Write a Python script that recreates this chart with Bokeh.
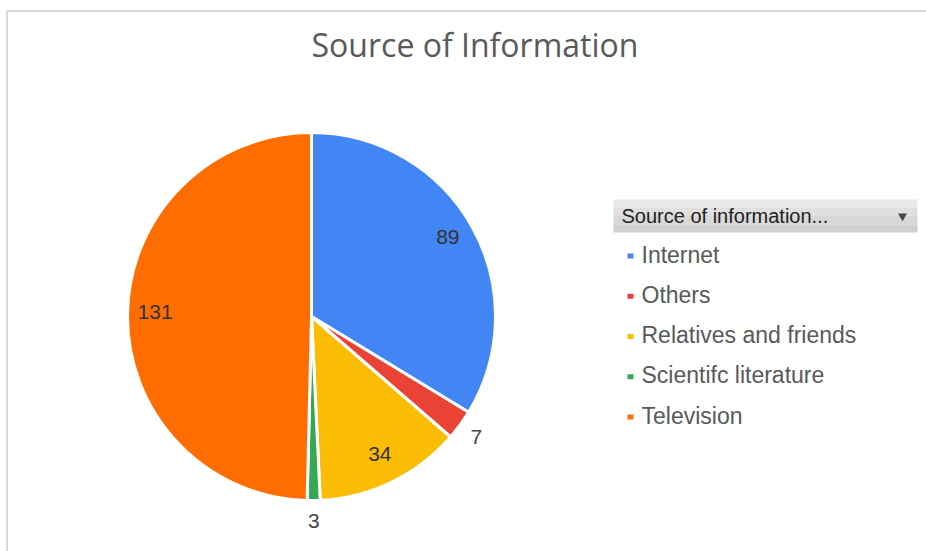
import math
from bokeh.plotting import figure
from bokeh.models import Range1d
from bokeh.core.properties import value
from bokeh.embed import file_html
from bokeh.resources import INLINE

# ---- data ----
title_text = "Source of Information"
legend_header = "Source of information..."
categories = ["Internet", "Others", "Relatives and friends", "Scientifc literature", "Television"]
counts = [89, 7, 34, 3, 131]
colors = ["#4285F4", "#EA4335", "#FBBC04", "#34A853", "#FF6D01"]

W, H = 926, 551
p = figure(width=W, height=H, output_backend="svg", toolbar_location=None,
           x_range=Range1d(0, W), y_range=Range1d(0, H), min_border=0)
p.axis.visible = False
p.grid.visible = False
p.outline_line_color = None
p.background_fill_color = "white"
p.border_fill_color = "white"

def Y(sy):
    return H - sy

# frame border lines
p.segment(x0=[6, 6.5], y0=[Y(10.5), Y(10)], x1=[W, 6.5], y1=[Y(10.5), 0],
          line_color="#d9d9d9", line_width=2)

# title
p.text(x=[474.5], y=[Y(44)], text=[title_text], text_font=value("Open Sans"),
       text_font_size="32px", text_color="#595959", text_align="center",
       text_baseline="alphabetic")

# pie
cx, cy, R = 311, 316, 184
total = sum(counts)
starts, ends, mids = [], [], []
cum = 0.0
for c in counts:
    a0 = cum / total * 2 * math.pi
    cum += c
    a1 = cum / total * 2 * math.pi
    starts.append(math.pi / 2 - a0)
    ends.append(math.pi / 2 - a1)
    mids.append((a0 + a1) / 2)

p.wedge(x=[cx] * len(counts), y=[Y(cy)] * len(counts), radius=R,
        start_angle=starts, end_angle=ends, direction="clock",
        fill_color=colors, line_color="white", line_width=3)

# data labels
dy_fix = 3
in_x, in_y, in_t = [], [], []
out_x, out_y, out_t = [], [], []
for c, m in zip(counts, mids):
    frac = c / total
    if frac < 0.05:
        r = 1.11 * R
        out_x.append(cx + r * math.sin(m)); out_y.append(Y(cy) + r * math.cos(m)); out_t.append(str(c))
    else:
        r = 0.85 * R
        in_x.append(cx + r * math.sin(m)); in_y.append(Y(cy) + r * math.cos(m) + dy_fix); in_t.append(str(c))

p.text(x=in_x, y=in_y, text=in_t, text_font=value("Liberation Sans"), text_font_size="21px",
       text_color="#333333", text_align="center", text_baseline="middle")
p.text(x=out_x, y=out_y, text=out_t, text_font=value("Liberation Sans"), text_font_size="21px",
       text_color="#444444", text_align="center", text_baseline="middle")

# legend header box (gradient-ish)
bands = ["#e8e8e8", "#e0e0e0", "#d8d8d8", "#d0d0d0"]
top, bot = 199, 232
step = (bot - top) / len(bands)
for i, col in enumerate(bands):
    p.quad(left=[613], right=[917], top=[Y(top + i * step)], bottom=[Y(top + (i + 1) * step)],
           fill_color=col, line_color=None)
p.text(x=[621], y=[Y(215)], text=[legend_header], text_font=value("Liberation Sans"),
       text_font_size="20px", text_color="#222222", text_align="left", text_baseline="alphabetic")
p.scatter(x=[902], y=[Y(215.5)], marker="inverted_triangle", size=9,
          fill_color="#444444", line_color=None)

# legend items
base0, gap = 262, 40.25
lx = [630] * len(categories)
ly_sq = [Y(base0 + i * gap - 6.5) for i in range(len(categories))]
ly_tx = [Y(base0 + i * gap - 8) for i in range(len(categories))]
p.rect(x=lx, y=ly_sq, width=6, height=5, fill_color=colors, line_color=None)
p.text(x=[641] * len(categories), y=ly_tx, text=categories, text_font=value("Liberation Sans"),
       text_font_size="23px", text_color="#595959", text_align="left", text_baseline="alphabetic")

open("out.html", "w").write(file_html(p, INLINE))
